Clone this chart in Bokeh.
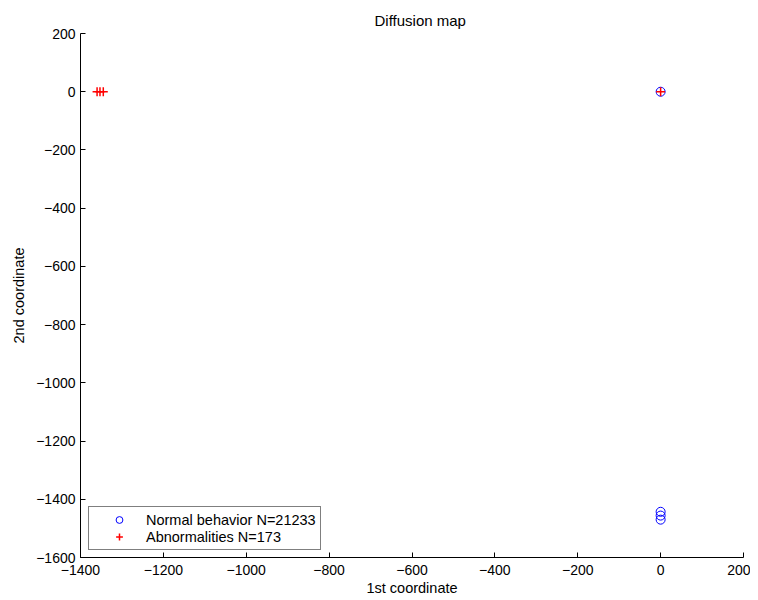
from bokeh.plotting import figure
from bokeh.models import Range1d, FixedTicker, Legend, LegendItem
from bokeh.embed import file_html
from bokeh.resources import INLINE

# Data
normal_x = [0, 0, 0, 0]
normal_y = [0, -1443, -1456, -1470]
abn_x = [-1360, -1353, -1345, 0]
abn_y = [0, 0, 0, 0]
x_ticks = [-1400, -1200, -1000, -800, -600, -400, -200, 0, 200]
y_ticks = [200, 0, -200, -400, -600, -800, -1000, -1200, -1400, -1600]

FONT = "Liberation Sans"

p = figure(width=750, height=600, output_backend="svg", toolbar_location=None,
           x_range=Range1d(-1400, 200), y_range=Range1d(-1600, 200),
           min_border_left=80, min_border_right=7, min_border_top=33, min_border_bottom=43,
           title="Diffusion map")

p.title.align = "left"
p.title.text_font = FONT
p.title.text_font_style = "normal"
p.title.text_font_size = "15px"
p.title.text_color = "black"
p.title.offset = 294

p.outline_line_color = None
p.grid.visible = False
p.background_fill_color = "white"
p.border_fill_color = "white"

for ax in (p.xaxis[0], p.yaxis[0]):
    ax.axis_line_color = "black"
    ax.major_tick_line_color = "black"
    ax.major_tick_in = 5
    ax.major_tick_out = 0
    ax.minor_tick_in = 0
    ax.minor_tick_out = 0
    ax.major_label_text_font = FONT
    ax.major_label_text_font_size = "14px"
    ax.major_label_text_color = "black"
    ax.axis_label_text_font = FONT
    ax.axis_label_text_font_size = "14.5px"
    ax.axis_label_text_font_style = "normal"
    ax.axis_label_text_color = "black"

p.xaxis.major_label_standoff = 7
p.yaxis.major_label_standoff = 5
p.xaxis.ticker = FixedTicker(ticks=x_ticks)
p.yaxis.ticker = FixedTicker(ticks=y_ticks)
p.xaxis.major_label_overrides = {t: str(t).replace("-", "\u2212") for t in x_ticks}
p.yaxis.major_label_overrides = {t: str(t).replace("-", "\u2212") for t in y_ticks}
p.xaxis.axis_label = "1st coordinate"
p.yaxis.axis_label = "2nd coordinate"
p.xaxis.axis_label_standoff = 2
p.yaxis.axis_label_standoff = 6

r1 = p.scatter(normal_x, normal_y, marker="circle", size=9, fill_color=None,
               line_color="blue", line_width=1)
r2 = p.scatter(abn_x, abn_y, marker="cross", size=9, line_color="red", line_width=1.5)

legend = Legend(items=[LegendItem(label="Normal behavior N=21233", renderers=[r1]),
                       LegendItem(label="Abnormalities N=173", renderers=[r2])],
                location=(8, 7))
legend.border_line_color = "black"
legend.border_line_width = 1
legend.background_fill_alpha = 1
legend.label_text_font = FONT
legend.label_text_font_size = "14.5px"
legend.label_text_color = "black"
legend.padding = 4
legend.margin = 0
legend.spacing = 0
legend.glyph_width = 52
legend.glyph_height = 17
legend.label_height = 17
legend.label_standoff = 1
p.add_layout(legend, "center")

open("out.html", "w").write(file_html(p, INLINE))
